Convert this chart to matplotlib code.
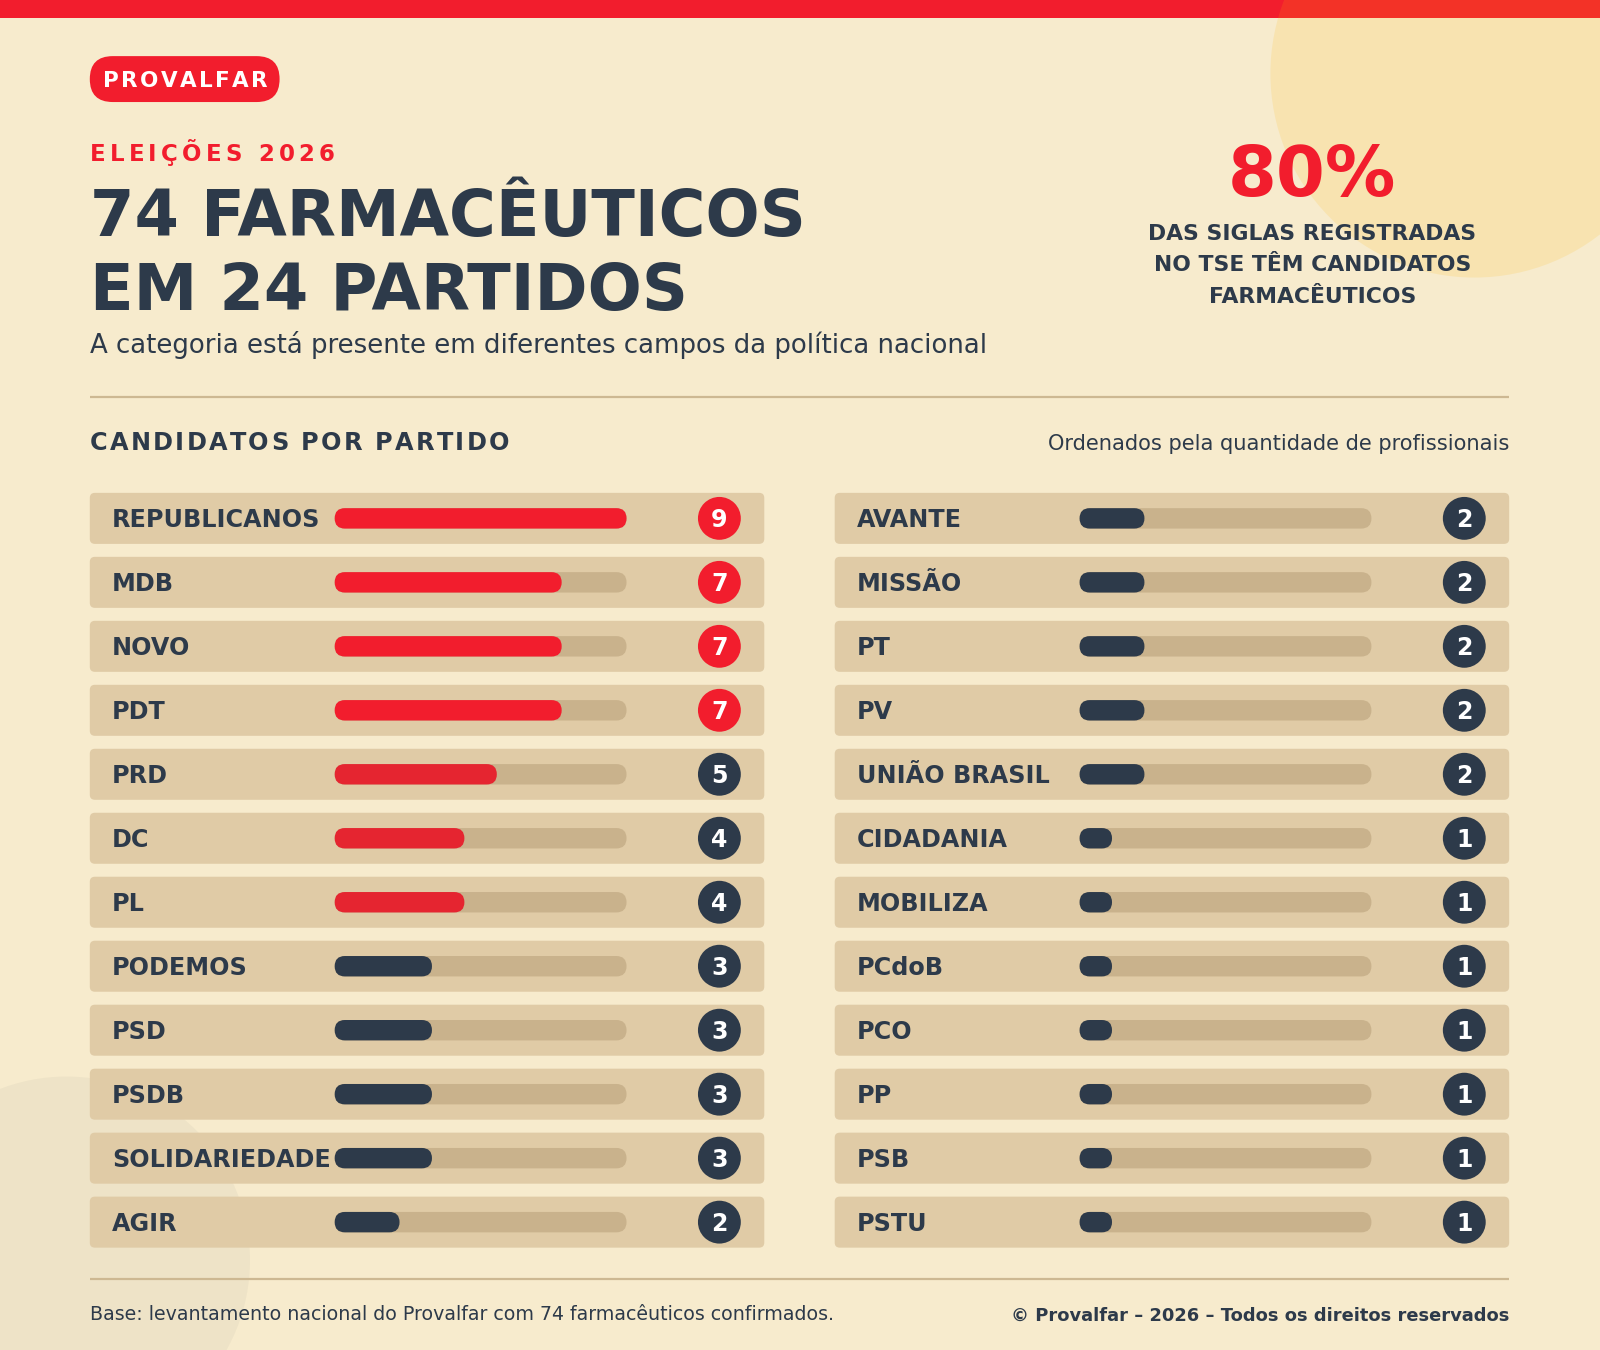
import matplotlib
matplotlib.use('Agg')
import matplotlib.pyplot as plt
from matplotlib.patches import FancyBboxPatch, Circle, Rectangle

# ---------------- data ----------------
parties_left = ['REPUBLICANOS', 'MDB', 'NOVO', 'PDT', 'PRD', 'DC', 'PL',
                'PODEMOS', 'PSD', 'PSDB', 'SOLIDARIEDADE', 'AGIR']
values_left = [9, 7, 7, 7, 5, 4, 4, 3, 3, 3, 3, 2]
parties_right = ['AVANTE', 'MISSÃO', 'PT', 'PV', 'UNIÃO BRASIL', 'CIDADANIA',
                 'MOBILIZA', 'PCdoB', 'PCO', 'PP', 'PSB', 'PSTU']
values_right = [2, 2, 2, 2, 2, 1, 1, 1, 1, 1, 1, 1]
VMAX = 9

brand = 'PROVALFAR'
kicker = 'ELEIÇÕES 2026'
title_lines = ['74 FARMACÊUTICOS', 'EM 24 PARTIDOS']
subtitle = 'A categoria está presente em diferentes campos da política nacional'
stat_value = '80%'
stat_lines = ['DAS SIGLAS REGISTRADAS', 'NO TSE TÊM CANDIDATOS', 'FARMACÊUTICOS']
section_title = 'CANDIDATOS POR PARTIDO'
section_note = 'Ordenados pela quantidade de profissionais'
footer_left = 'Base: levantamento nacional do Provalfar com 74 farmacêuticos confirmados.'
footer_right = '© Provalfar – 2026 – Todos os direitos reservados'

# ---------------- style ----------------
BG = '#F7EBCD'
RED = '#F21D2D'
RED2 = '#E52530'
DARK = '#2D3A4A'
ROW_BG = '#E0CBA6'
TRACK = '#C9B28C'
LINE = '#CDB892'
FONT = 'DejaVu Sans'

W, H = 1568, 1323
fig = plt.figure(figsize=(16, 13.5), dpi=100)
fig.patch.set_facecolor(BG)
ax = fig.add_axes([0, 0, 1, 1])
ax.set_xlim(0, W)
ax.set_ylim(H, 0)
ax.axis('off')
ax.set_facecolor(BG)
renderer = fig.canvas.get_renderer()
PX = W / 1600.0  # data units per output pixel


def ink_width(s, size, weight):
    t = ax.text(0, 0, s, fontsize=size, fontweight=weight, family=FONT)
    w = t.get_window_extent(renderer).width * PX
    t.remove()
    return w


def adv_width(c, size, weight):
    return ink_width('|' + c + '|', size, weight) - ink_width('||', size, weight)


def fit(s, target, weight):
    return 20.0 * target / ink_width(s, 20, weight)


def spaced(x, y, s, size, weight, color, total, ha='left', z=6):
    adv = [adv_width(c, size, weight) for c in s]
    last_ink = ink_width(s[-1], size, weight)
    natural = sum(adv[:-1]) + last_ink
    gap = (total - natural) / (len(s) - 1)
    if ha == 'center':
        x = x - total / 2.0
    cx = x
    for c, a in zip(s, adv):
        if c != ' ':
            ax.text(cx, y, c, fontsize=size, fontweight=weight, family=FONT,
                    color=color, ha='left', va='baseline', zorder=z)
        cx += a + gap


# ---------------- background decorations ----------------
ax.add_patch(Rectangle((0, 0), W, 17.5, fc=RED, ec='none', zorder=1))
ax.add_patch(Circle((1445, 72), 200, fc='#FFB703', alpha=0.14, ec='none', zorder=2))
ax.add_patch(Circle((65, 1235), 180, fc=DARK, alpha=0.045, ec='none', zorder=0.5))

# ---------------- header ----------------
ax.add_patch(FancyBboxPatch((88, 55), 186, 45, boxstyle='round,pad=0,rounding_size=22.5',
                            fc=RED, ec='none', zorder=3))
spaced(101, 85.5, brand, 15.5, 'bold', 'white', 161)
spaced(88, 157.5, kicker, 16.5, 'bold', RED, 240)

tsize = fit(title_lines[0], 700, 'bold')
ax.text(88, 231, title_lines[0], fontsize=tsize, fontweight='bold', family=FONT,
        color=DARK, ha='left', va='baseline', zorder=6)
ax.text(88, 304, title_lines[1], fontsize=tsize, fontweight='bold', family=FONT,
        color=DARK, ha='left', va='baseline', zorder=6)

ssize = fit(subtitle, 877, 'normal')
ax.text(88, 346, subtitle, fontsize=ssize, family=FONT, color=DARK,
        ha='left', va='baseline', zorder=6)

# stat block
psize = fit(stat_value, 165, 'bold')
ax.text(1286, 192, stat_value, fontsize=psize, fontweight='bold', family=FONT,
        color=RED, ha='center', va='baseline', zorder=6)
stsize = fit(stat_lines[0], 321, 'bold')
for k, line in enumerate(stat_lines):
    ax.text(1286, 235 + k * 31, line, fontsize=stsize, fontweight='bold', family=FONT,
            color=DARK, ha='center', va='baseline', zorder=6)

ax.plot([88, 1479], [389, 389], color=LINE, lw=1.6, solid_capstyle='butt', zorder=3)

# section header
spaced(88, 441, section_title, 17.3, 'bold', DARK, 411)
nsize = fit(section_note, 452, 'normal')
ax.text(1479, 441, section_note, fontsize=nsize, family=FONT, color=DARK,
        ha='right', va='baseline', zorder=6)

# ---------------- rows ----------------
ROW_TOP0 = 483
ROW_STEP = 62.7
ROW_H = 50
COL_W = 661
TRACK_DX = 240
TRACK_W = 286
TRACK_H = 20
BADGE_DX = 617
BADGE_R = 21

lsize = fit('REPUBLICANOS', 203, 'bold')
bsize = 17


def fill_color(v):
    if v >= 7:
        return RED
    if v >= 4:
        return RED2
    return DARK


for x0, names, vals in [(88, parties_left, values_left), (818, parties_right, values_right)]:
    for i, (name, v) in enumerate(zip(names, vals)):
        top = ROW_TOP0 + i * ROW_STEP
        cy = top + ROW_H / 2.0
        ax.add_patch(FancyBboxPatch((x0, top), COL_W, ROW_H,
                                    boxstyle='round,pad=0,rounding_size=5',
                                    fc=ROW_BG, ec='none', zorder=3))
        ax.text(x0 + 22, cy + 8.5, name, fontsize=lsize, fontweight='bold', family=FONT,
                color=DARK, ha='left', va='baseline', zorder=6)
        tx = x0 + TRACK_DX
        ax.add_patch(FancyBboxPatch((tx, cy - TRACK_H / 2), TRACK_W, TRACK_H,
                                    boxstyle='round,pad=0,rounding_size=10',
                                    fc=TRACK, ec='none', zorder=4))
        fw = v / VMAX * TRACK_W
        ax.add_patch(FancyBboxPatch((tx, cy - TRACK_H / 2), fw, TRACK_H,
                                    boxstyle='round,pad=0,rounding_size=10',
                                    fc=fill_color(v), ec='none', zorder=5))
        bc = RED if v >= 7 else DARK
        ax.add_patch(Circle((x0 + BADGE_DX, cy), BADGE_R, fc=bc, ec='none', zorder=5))
        ax.text(x0 + BADGE_DX, cy + 8.4, str(v), fontsize=bsize, fontweight='bold',
                family=FONT, color='white', ha='center', va='baseline', zorder=6)

# ---------------- footer ----------------
ax.plot([88, 1479], [1253, 1253], color=LINE, lw=1.6, solid_capstyle='butt', zorder=3)
fsize = fit(footer_left, 729, 'normal')
ax.text(88, 1294, footer_left, fontsize=fsize, family=FONT, color=DARK,
        ha='left', va='baseline', zorder=6)
frsize = fit(footer_right, 489, 'bold')
ax.text(1479, 1294, footer_right, fontsize=frsize, fontweight='bold', family=FONT,
        color=DARK, ha='right', va='baseline', zorder=6)

fig.savefig('out.png', dpi=100, facecolor=BG)
